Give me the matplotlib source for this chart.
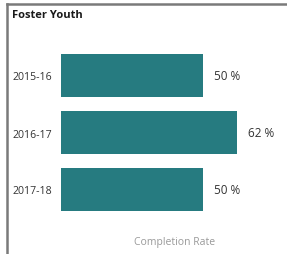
import matplotlib
matplotlib.use('Agg')
import matplotlib.pyplot as plt
from matplotlib.lines import Line2D

plt.rcParams['font.family'] = ['Open Sans', 'DejaVu Sans']

years = ['2015-16', '2016-17', '2017-18']
rates = [50, 62, 50]
labels = ['50 %', '62 %', '50 %']

W, H = 287, 255
fig = plt.figure(figsize=(W/100, H/100), dpi=100)

# card border (top + left only)
fig.add_artist(Line2D([7/W, 1], [1-5/H, 1-5/H], color='#7a7a7a', lw=1.8, transform=fig.transFigure))
fig.add_artist(Line2D([7/W, 7/W], [0, 1-5/H], color='#7a7a7a', lw=1.8, transform=fig.transFigure))

ax = fig.add_axes([61/W, 36/H, 226/W, 171/H])
ax.barh(range(len(years)), rates, height=0.74, color='#267B80')
ax.set_xlim(0, 226/2.84)
ax.set_ylim(2.5, -0.5)
for i, (v, t) in enumerate(zip(rates, labels)):
    ax.text(v + 11/2.84, i, t, va='center', ha='left', fontsize=8.5, color='#333333')
ax.set_yticks(range(len(years)))
ax.set_yticklabels(years, fontsize=7.6, color='#333333')
ax.tick_params(axis='y', length=0, pad=6.5)
ax.set_xticks([])
for s in ax.spines.values():
    s.set_visible(False)

fig.text(12/W, 1-16/H, 'Foster Youth', fontsize=8, fontweight='bold', color='#1a1a1a', va='center', ha='left')
fig.text(175/W, 1-243/H, 'Completion Rate', fontsize=7.5, color='#999999', va='center', ha='center')

fig.savefig('out.png', dpi=100)
